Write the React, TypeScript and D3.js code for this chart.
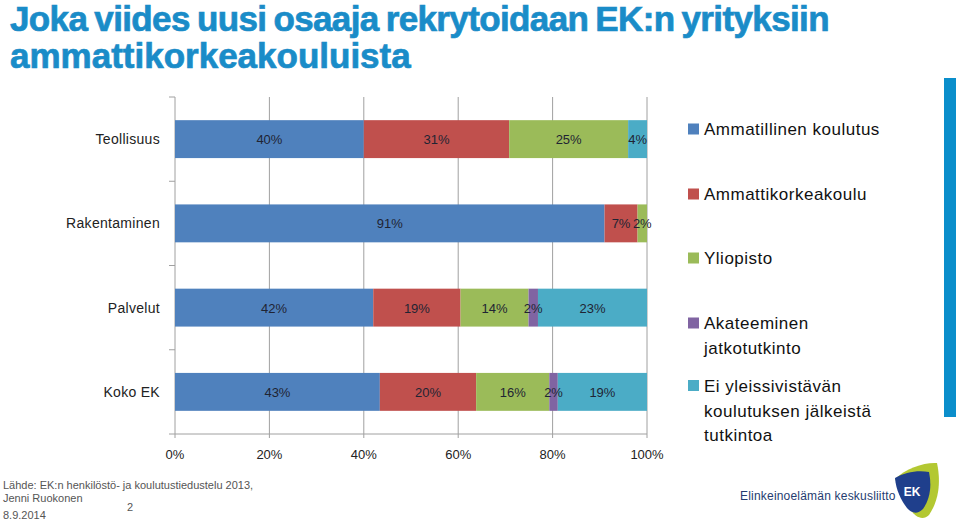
import React from "react";
import * as d3 from "d3";

const titleLines = ["Joka viides uusi osaaja rekrytoidaan EK:n yrityksiin", "ammattikorkeakouluista"];
const categories = ["Teollisuus", "Rakentaminen", "Palvelut", "Koko EK"];
const seriesKeys = ["ammatillinen", "amk", "yliopisto", "jatko", "ei"];
const legendLabels = [
  ["Ammatillinen koulutus"],
  ["Ammattikorkeakoulu"],
  ["Yliopisto"],
  ["Akateeminen", "jatkotutkinto"],
  ["Ei yleissivistävän", "koulutuksen jälkeistä", "tutkintoa"],
];
const ammatillinen = [40, 91, 42, 43.4];
const amk = [30.8, 7, 18.5, 20.4];
const yliopisto = [25.2, 2, 14.4, 15.5];
const jatko = [0, 0, 2, 1.8];
const eiTutkintoa = [4, 0, 23.1, 18.9];
const xTicks = [0, 20, 40, 60, 80, 100];
const colors = ["#4f81bd", "#c0504d", "#9bbb59", "#8064a2", "#4bacc6"];
const footerLines = ["Lähde: EK:n henkilöstö- ja koulutustiedustelu 2013,", "Jenni Ruokonen", "8.9.2014"];
const pageNumber = "2";
const orgName = "Elinkeinoelämän keskusliitto";

const FONT = "'Liberation Sans', Arial, sans-serif";

export default function App() {
  const values = [ammatillinen, amk, yliopisto, jatko, eiTutkintoa];
  const rows = categories.map((c, i) => {
    const r: any = { cat: c };
    seriesKeys.forEach((k, j) => (r[k] = values[j][i]));
    return r;
  });
  const stacked = d3.stack().keys(seriesKeys)(rows as any);

  const x = d3.scaleLinear().domain([0, 100]).range([175, 647]);
  const y = d3.scaleBand().domain(categories).range([97, 434]).paddingInner(0.55).paddingOuter(0.275);
  const step = y.step();
  const bandEdges = d3.range(categories.length + 1).map((i) => 97 + i * step);

  const legendLineCenters = [[129], [194], [258], [323, 347.5], [385.5, 410.5, 434.5]];

  return (
    <svg width={960} height={521} style={{ position: "fixed", left: 0, top: 0, background: "#fff" }} fontFamily={FONT}>
      <rect width={960} height={521} fill="#fff" />
      {titleLines.map((t, i) => (
        <text
          key={i}
          x={10}
          y={31 + i * 37}
          fontSize={35}
          fontWeight="bold"
          fill="#1a8cc8"
          stroke="#1a8cc8"
          strokeWidth={0.7}
          letterSpacing={i === 0 ? -0.63 : 0}
          wordSpacing={i === 0 ? -2 : 0}
        >
          {t}
        </text>
      ))}

      {/* gridlines */}
      {xTicks.slice(1).map((t) => (
        <line key={t} x1={x(t)} x2={x(t)} y1={97} y2={434} stroke="#a0a0a0" strokeWidth={1} />
      ))}
      {/* y axis */}
      <line x1={175} x2={175} y1={97} y2={434} stroke="#a0a0a0" />
      {bandEdges.map((e, i) => (
        <line key={i} x1={169} x2={175} y1={e} y2={e} stroke="#a0a0a0" />
      ))}
      {/* x axis */}
      <line x1={175} x2={647} y1={434} y2={434} stroke="#a0a0a0" />
      {xTicks.map((t) => (
        <line key={t} x1={x(t)} x2={x(t)} y1={434} y2={438} stroke="#a0a0a0" />
      ))}
      {xTicks.map((t) => (
        <text key={t} x={x(t)} y={459} fontSize={13} textAnchor="middle" fill="#222">
          {t + "%"}
        </text>
      ))}

      {/* category labels */}
      {categories.map((c) => (
        <text key={c} x={160} y={(y(c) as number) + y.bandwidth() / 2 + 5} fontSize={14} textAnchor="end" fill="#222" letterSpacing={0.3}>
          {c}
        </text>
      ))}

      {/* bars */}
      {stacked.map((s, si) =>
        s.map((d: any, di) => {
          const v = d[1] - d[0];
          if (v <= 0) return null;
          return (
            <rect key={si + "-" + di} x={x(d[0])} y={y(categories[di])} width={x(d[1]) - x(d[0])} height={y.bandwidth()} fill={colors[si]} />
          );
        })
      )}
      {stacked.map((s, si) =>
        s.map((d: any, di) => {
          const v = d[1] - d[0];
          if (v <= 0) return null;
          return (
            <text key={"l" + si + "-" + di} x={(x(d[0]) + x(d[1])) / 2} y={(y(categories[di]) as number) + y.bandwidth() / 2 + 5} fontSize={13} textAnchor="middle" fill="#1f2433">
              {Math.round(v) + "%"}
            </text>
          );
        })
      )}

      {/* legend */}
      {legendLabels.map((lines, i) => (
        <g key={i}>
          <rect x={688} y={legendLineCenters[i][0] - 5.5} width={11} height={11} fill={colors[i]} />
          {lines.map((l, j) => (
            <text key={j} x={704} y={legendLineCenters[i][j] + 6} fontSize={17} fill="#111" letterSpacing={0.5}>
              {l}
            </text>
          ))}
        </g>
      ))}

      {/* right accent bar */}
      <rect x={944} y={78} width={12} height={339} fill="#0b8ecb" />

      {/* footer */}
      {footerLines.map((l, i) => (
        <text key={i} x={3} y={[489, 502, 519][i]} fontSize={11} fill="#555">
          {l}
        </text>
      ))}
      <text x={127} y={511} fontSize={11} fill="#555">
        {pageNumber}
      </text>

      {/* logo */}
      <text x={740} y={500} fontSize={12} fill="#253c70" letterSpacing={0.2}>
        {orgName}
      </text>
      <path d="M895,479 C906,468 925,462 937,463 C941,482 939,500 929,515 C923,521 915,517 911,510 Z" fill="#b3c832" />
      <path d="M895,478 C905,472 918,470 929,472 C932,486 930,499 923,509 C918,514 912,514 907,508 C901,500 896,490 895,478 Z" fill="#1f3f8c" />
      <text x={912} y={496} fontSize={12} fontWeight="bold" fill="#fff" textAnchor="middle">EK</text>
    </svg>
  );
}
